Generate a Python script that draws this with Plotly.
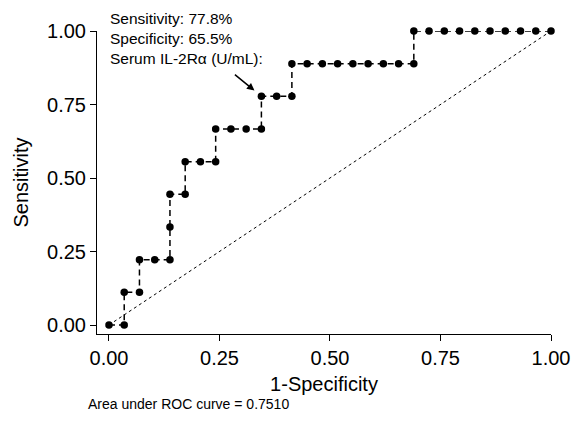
import plotly.graph_objects as go

n_neg = 29
n_pos = 9
# ROC points as (false-positive count, true-positive count)
fp_counts = [0, 1, 1, 2, 2, 3, 4, 4, 4, 5, 5, 6, 7, 7, 8, 9, 10, 10, 11, 12, 12,
             13, 14, 15, 16, 17, 18, 19, 20, 20, 21, 22, 23, 24, 25, 26, 27, 28, 29]
tp_counts = [0, 0, 1, 1, 2, 2, 2, 3, 4, 4, 5, 5, 5, 6, 6, 6, 6, 7, 7, 7, 8,
             8, 8, 8, 8, 8, 8, 8, 8, 9, 9, 9, 9, 9, 9, 9, 9, 9, 9]
one_minus_spec = [c / n_neg for c in fp_counts]
sensitivity = [c / n_pos for c in tp_counts]

x_ticks = [0.0, 0.25, 0.5, 0.75, 1.0]
x_tick_labels = ["0.00", "0.25", "0.50", "0.75", "1.00"]
y_ticks = [0.0, 0.25, 0.5, 0.75, 1.0]
y_tick_labels = ["0.00", "0.25", "0.50", "0.75", "1.00"]

cut_x = 10 / n_neg
cut_y = 7 / n_pos

FONT = "Liberation Sans, Arial, sans-serif"

fig = go.Figure()
fig.add_trace(go.Scatter(x=[0, 1], y=[0, 1], mode="lines",
                         line=dict(color="black", width=1, dash="dot"),
                         hoverinfo="skip", cliponaxis=False))
fig.add_trace(go.Scatter(x=one_minus_spec, y=sensitivity, mode="lines+markers",
                         line=dict(color="black", width=1.5, dash="6px,4px"),
                         marker=dict(color="black", size=7.5),
                         cliponaxis=False))

fig.add_annotation(x=-0.002, y=0.976, xref="x", yref="y", xanchor="left", yanchor="middle",
                   align="left", showarrow=False,
                   text="Sensitivity: 77.8%<br>Specificity: 65.5%<br>Serum IL-2Rα (U/mL):",
                   font=dict(family=FONT, size=15.5, color="black"))
fig.add_annotation(x=cut_x, y=cut_y, xref="x", yref="y", ax=-28, ay=-23,
                   showarrow=True, arrowhead=2, arrowsize=1, arrowwidth=1.5,
                   arrowcolor="black", standoff=9, text="")
fig.add_annotation(x=-0.024, y=-0.232, xref="paper", yref="paper", xanchor="left",
                   yanchor="middle", showarrow=False,
                   text="Area under ROC curve = 0.7510",
                   font=dict(family=FONT, size=14, color="black"))

fig.update_layout(
    width=572, height=426,
    margin=dict(l=97, r=21, t=31, b=92),
    plot_bgcolor="white", paper_bgcolor="white",
    showlegend=False,
    font=dict(family=FONT, color="black"),
    xaxis=dict(range=[-0.0271, 1.0], tickvals=x_ticks, ticktext=x_tick_labels,
               automargin=False,
               showgrid=False, zeroline=False, showline=True, linecolor="black",
               linewidth=1, ticks="outside", ticklen=6, tickcolor="black",
               tickfont=dict(size=20), title=dict(text="1-Specificity", font=dict(size=20), standoff=8)),
    yaxis=dict(range=[-0.0306, 1.0], tickvals=y_ticks, ticktext=y_tick_labels,
               automargin=False,
               showgrid=False, zeroline=False, showline=True, linecolor="black",
               linewidth=1, ticks="outside", ticklen=6, tickcolor="black",
               tickfont=dict(size=20), title=dict(text="Sensitivity", font=dict(size=20), standoff=13)),
)

fig.write_html("out.html", config={"displayModeBar": False},
               post_script="document.body.style.margin='0';document.body.style.overflow='hidden';")
